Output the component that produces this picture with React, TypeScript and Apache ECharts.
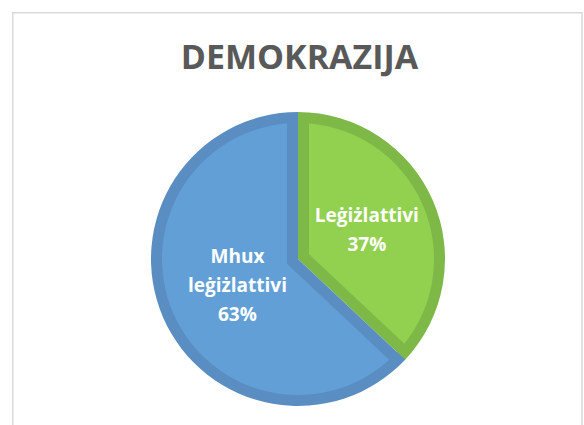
import React, { useEffect, useRef } from "react";
import * as echarts from "echarts";

const titleText = "DEMOKRAZIJA";
const categories = ["Leġiżlattivi", "Mhux leġiżlattivi"];
const values = [37, 63];
const fillColors = ["#92D050", "#629FD6"];
const borderColors = ["#7EB947", "#5A8EC3"];

export default function App() {
  const ref = useRef<HTMLDivElement>(null);
  useEffect(() => {
    if (!ref.current) return;
    const chart = echarts.init(ref.current, null, { renderer: "svg" });
    const cx = 298;
    const cy = 259;
    const R = 147;
    const w = 11;
    const total = values.reduce((a, b) => a + b, 0);
    const base = categories.map((name, i) => ({ name, value: values[i] }));

    // angular layout from data
    let acc = 0;
    const shifted = values.map((v) => {
      const span = (v / total) * Math.PI * 2;
      const mid = acc + span / 2;
      acc += span;
      const d = w / Math.sin(span / 2);
      return [cx + d * Math.sin(mid), cy - d * Math.cos(mid)];
    });

    const common = {
      type: "pie" as const,
      startAngle: 90,
      clockwise: true,
      silent: true,
      animation: false,
      label: { show: false },
      labelLine: { show: false },
      emphasis: { disabled: true },
    };

    const series: any[] = [];
    // dark full disk
    series.push({
      ...common,
      center: [cx, cy],
      radius: [0, R],
      data: base.map((d, i) => ({ ...d, itemStyle: { color: borderColors[i] } })),
    });
    // light inset sectors
    values.forEach((_, k) => {
      series.push({
        ...common,
        center: shifted[k],
        radius: [0, R + 4],
        data: base.map((d, i) => ({
          ...d,
          itemStyle: { color: i === k ? fillColors[i] : "rgba(0,0,0,0)" },
        })),
      });
    });
    // dark outer ring
    series.push({
      ...common,
      center: [cx, cy],
      radius: [R - w, R + 1],
      data: base.map((d, i) => ({ ...d, itemStyle: { color: borderColors[i] } })),
    });
    // white mask outside
    series.push({
      ...common,
      center: [cx, cy],
      radius: [R, R + 22],
      data: base.map((d) => ({ ...d, itemStyle: { color: "#ffffff" } })),
    });
    // labels
    const labelRadii = [144, 126];
    labelRadii.forEach((lr, k) => {
      series.push({
        ...common,
        center: [cx, cy],
        radius: [0, lr],
        data: base.map((d, i) => ({
          ...d,
          itemStyle: { color: "rgba(0,0,0,0)" },
          label: { show: i === k },
        })),
        label: {
          show: true,
          position: "inside",
          color: "#ffffff",
          fontFamily: "Open Sans",
          fontWeight: "bold",
          fontSize: 19,
          lineHeight: 29,
          align: "center",
          formatter: (p: any) => p.name.replace(" ", "\n") + "\n" + Math.round(p.percent) + "%",
        },
      });
    });

    chart.setOption({
      animation: false,
      backgroundColor: "#ffffff",
      graphic: [
        {
          type: "rect",
          shape: { x: 12.75, y: 12.75, width: 569.25, height: 500 },
          style: { fill: "none", stroke: "#D9D9D9", lineWidth: 1.5 },
          silent: true,
          z: 0,
        },
        {
          type: "text",
          x: 299.5,
          y: 56,
          style: {
            text: titleText,
            fill: "#595959",
            font: "bold 34px 'Open Sans'",
            textAlign: "center",
            textVerticalAlign: "middle",
          },
          z: 100,
        },
      ],
      series,
    });
    return () => chart.dispose();
  }, []);
  return (
    <div
      ref={ref}
      style={{ position: "fixed", left: 0, top: 0, width: 584, height: 425 }}
    />
  );
}
